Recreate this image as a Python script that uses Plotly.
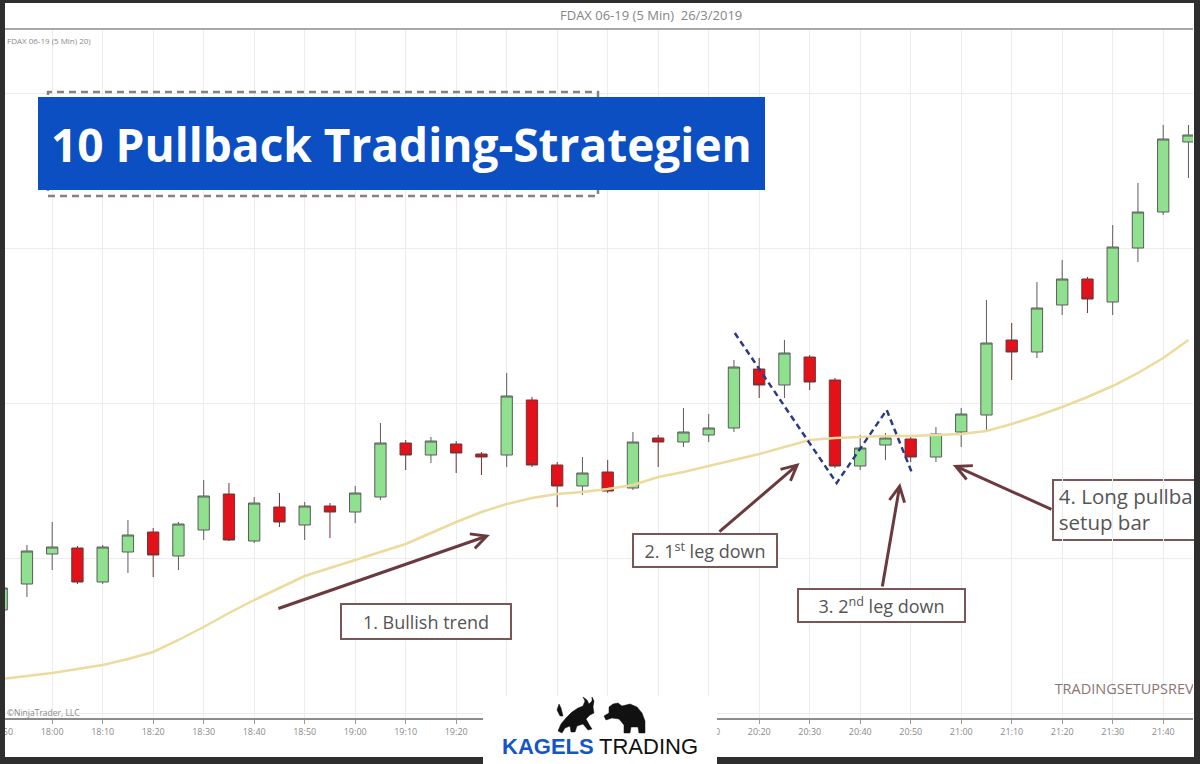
import plotly.graph_objects as go

DATE = "2019-03-26 "

times = ["17:50", "17:55", "18:00", "18:05", "18:10", "18:15", "18:20", "18:25",
         "18:30", "18:35", "18:40", "18:45", "18:50", "18:55", "19:00", "19:05",
         "19:10", "19:15", "19:20", "19:25", "19:30", "19:35", "19:40", "19:45",
         "19:50", "19:55", "20:00", "20:05", "20:10", "20:15", "20:20", "20:25",
         "20:30", "20:35", "20:40", "20:45", "20:50", "20:55", "21:00", "21:05",
         "21:10", "21:15", "21:20", "21:25", "21:30", "21:35", "21:40", "21:45"]

# 10-minute axis ticks; the labels under the logo panel are hidden in the original
tick_times = ["17:50", "18:00", "18:10", "18:20", "18:30", "18:40", "18:50", "19:00",
              "19:10", "19:20", "19:30", "19:40", "19:50", "20:00", "20:10", "20:20",
              "20:30", "20:40", "20:50", "21:00", "21:10", "21:20", "21:30", "21:40"]
tick_labels = ["17:50", "18:00", "18:10", "18:20", "18:30", "18:40", "18:50", "19:00",
               "19:10", "19:20", "", "", "", "", "20:10", "20:20",
               "20:30", "20:40", "20:50", "21:00", "21:10", "21:20", "21:30", "21:40"]

opens = [11358, 11363.2, 11369.2, 11370.4, 11363.6, 11369.6, 11373.6, 11368.8,
         11374, 11381.2, 11371.8, 11378.6, 11375, 11378.8, 11377.6, 11380.6,
         11391.4, 11389, 11391.2, 11389.2, 11389, 11400, 11387, 11382.8,
         11385.6, 11382.4, 11392.4, 11391.6, 11393, 11394.4, 11406.2, 11403,
         11408.6, 11404, 11386.8, 11391, 11392.2, 11388.6, 11393.6, 11397,
         11412, 11409.6, 11419, 11424.2, 11419.6, 11430.4, 11437.6, 11451.6]
highs = [11363.4, 11371, 11375.6, 11370.8, 11371, 11376, 11374.4, 11375.6,
         11384, 11383.4, 11380.6, 11381.4, 11379.6, 11379.4, 11382.8, 11395.4,
         11392, 11392.6, 11391.8, 11389.6, 11405.4, 11400.6, 11387.6, 11388.6,
         11388, 11393.6, 11393, 11398.4, 11397.2, 11408, 11408.4, 11412,
         11409, 11404.4, 11393, 11393.4, 11392.6, 11394.6, 11398.4, 11420,
         11415.4, 11423.6, 11428, 11424.6, 11435, 11443.4, 11455, 11455]
lows = [11357.4, 11360.6, 11366, 11363.2, 11363.2, 11365.4, 11364.6, 11366,
        11372, 11371.8, 11371.4, 11374.6, 11372, 11372.4, 11375.4, 11380,
        11386, 11387.4, 11385.4, 11385, 11386.6, 11386.6, 11378.6, 11381,
        11381.4, 11382, 11386.6, 11390.6, 11391.6, 11393.6, 11400.4, 11400.4,
        11402, 11386.4, 11386, 11388, 11387.6, 11387.6, 11390.6, 11394,
        11404, 11408.4, 11417, 11417.4, 11417, 11427.6, 11437, 11444.4]
closes = [11362.4, 11369.8, 11370.6, 11363.6, 11370.6, 11373, 11369, 11375.2,
          11380.8, 11372, 11379.4, 11375.6, 11378.8, 11377.6, 11381.4, 11391.4,
          11389, 11391.8, 11389.4, 11388.6, 11400.8, 11387, 11382.8, 11385.4,
          11381.8, 11391.6, 11391.6, 11393.6, 11394.4, 11406.6, 11403, 11409.4,
          11403.6, 11386.8, 11390.4, 11392.4, 11388.6, 11393.2, 11397.2, 11411.4,
          11409.6, 11418.4, 11424.2, 11420.2, 11430.6, 11437.6, 11452.2, 11453]
sma20 = [11344.2, 11344.8, 11345.4, 11346.2, 11347, 11348.2, 11349.6, 11352,
         11354.6, 11357.4, 11360, 11362.4, 11364.8, 11366.4, 11368, 11369.6,
         11371.2, 11373.4, 11375.6, 11377.6, 11379.2, 11380.4, 11381.2, 11381.6,
         11382.2, 11383, 11384.6, 11385.6, 11386.8, 11388, 11389.2, 11390.6,
         11392, 11392.4, 11392.6, 11392.8, 11392.8, 11393, 11393.2, 11393.8,
         11395.2, 11396.8, 11398.6, 11400.6, 11402.8, 11405.4, 11408.4, 11412]

zig_times = ["20:15:10", "20:35:20", "20:45:15", "20:50:25"]
zig_prices = [11413.4, 11383.4, 11398, 11385]

x = [DATE + t for t in times]

# plot-area pixel geometry (for decorations placed in paper coordinates)
W, H = 1200, 764
PL, PR, PT, PB = 0, 1193, 30, 718


def px(v):
    return (v - PL) / (PR - PL)


def py(v):
    return (PB - v) / (PB - PT)


def path(points):
    return "M " + " L ".join(f"{px(a):.5f},{py(b):.5f}" for a, b in points) + " Z"


fig = go.Figure()

fig.add_trace(go.Scatter(x=x, y=sma20, mode="lines",
                         line=dict(color="#ecdb9c", width=2.5), hoverinfo="skip"))
fig.add_trace(go.Candlestick(
    x=x, open=opens, high=highs, low=lows, close=closes,
    increasing=dict(fillcolor="#8fe08f", line=dict(color="#5c5c5c", width=1)),
    decreasing=dict(fillcolor="#e3121a", line=dict(color="#6e3434", width=1)),
    whiskerwidth=0, hoverinfo="skip"))
fig.add_trace(go.Scatter(x=[DATE + t for t in zig_times], y=zig_prices, mode="lines",
                         line=dict(color="#2c3a86", width=2.5, dash="6px,4px"),
                         hoverinfo="skip"))
fig.add_trace(go.Scatter(x=[DATE + "21:18:30"], y=[11342], mode="text",
                         text=["TRADINGSETUPSREVIEW"], textposition="middle right",
                         textfont=dict(family="Open Sans", size=14.5, color="#8c7474"),
                         hoverinfo="skip"))
fig.add_trace(go.Scatter(x=[DATE + "21:19:20"], y=[11377.6], mode="text",
                         text=["4. Long pullback<br>setup bar"], textposition="middle right",
                         textfont=dict(family="Open Sans", size=20.5, color="#555555"),
                         hoverinfo="skip"))

shapes = []
shapes.append(dict(type="line", xref="paper", yref="paper", x0=px(5), x1=px(1193),
                   y0=py(29), y1=py(29), line=dict(color="#a8a8a8", width=2), layer="above"))
shapes.append(dict(type="rect", xref="paper", yref="paper", x0=px(48), x1=px(598),
                   y0=py(196), y1=py(92), line=dict(color="#8a8080", width=2.5, dash="7px,5px"),
                   fillcolor="rgba(0,0,0,0)", layer="above"))
shapes.append(dict(type="rect", xref="paper", yref="paper", x0=px(38), x1=px(765),
                   y0=py(190), y1=py(97), line=dict(width=0), fillcolor="#0b4fc3", layer="above"))
shapes.append(dict(type="rect", xref="paper", yref="paper", x0=px(1053), x1=px(1210),
                   y0=py(540), y1=py(480), line=dict(color="#7a5656", width=2),
                   fillcolor="white", layer="between"))
frame = "#2e2e2e"
shapes.append(dict(type="rect", xref="paper", yref="paper", x0=px(-2), x1=px(5),
                   y0=py(766), y1=py(-2), line=dict(width=0), fillcolor=frame, layer="above"))
shapes.append(dict(type="rect", xref="paper", yref="paper", x0=px(1194), x1=px(1202),
                   y0=py(766), y1=py(-2), line=dict(width=0), fillcolor=frame, layer="above"))
shapes.append(dict(type="rect", xref="paper", yref="paper", x0=px(-2), x1=px(1202),
                   y0=py(3), y1=py(-2), line=dict(width=0), fillcolor=frame, layer="above"))
shapes.append(dict(type="rect", xref="paper", yref="paper", x0=px(-2), x1=px(1202),
                   y0=py(766), y1=py(757), line=dict(width=0), fillcolor=frame, layer="above"))
shapes.append(dict(type="rect", xref="paper", yref="paper", x0=px(483), x1=px(717),
                   y0=py(766), y1=py(696), line=dict(width=0), fillcolor="white", layer="above"))
bull = [(558, 731), (561, 724), (566, 718), (572, 712), (578, 708), (583, 706), (585, 701),
        (583, 697), (587, 700), (589, 704), (592, 701), (592, 697), (594, 701), (593, 707),
        (594, 713), (590, 715), (586, 719), (590, 726), (592, 729), (588, 730), (583, 724),
        (577, 726), (575, 732), (571, 732), (570, 726), (565, 728), (562, 733)]
bull_tail = [(560, 716), (557, 710), (559, 704), (561, 708), (563, 716)]
bear = [(604, 716), (609, 713), (609, 707), (613, 704), (618, 703), (622, 706), (630, 704),
        (637, 707), (642, 713), (645, 721), (645, 733), (639, 733), (638, 727), (631, 727),
        (630, 733), (624, 733), (624, 725), (619, 719), (612, 718), (606, 720)]
for pts in (bull, bull_tail, bear):
    shapes.append(dict(type="path", xref="paper", yref="paper", path=path(pts),
                       fillcolor="#111111", line=dict(color="#111111", width=0.5), layer="above"))

ann = []
pap = dict(xref="paper", yref="paper", showarrow=False, yanchor="middle")
ann.append(dict(x=px(651), y=py(15), xanchor="center", text="FDAX 06-19 (5 Min)  26/3/2019",
                font=dict(family="Open Sans", size=13, color="#858585"), **pap))
ann.append(dict(x=px(5), y=py(40), xanchor="left", text="FDAX 06-19 (5 Min) 20)",
                font=dict(family="Open Sans", size=8, color="#8a8a8a"), **pap))
ann.append(dict(x=px(5), y=py(712), xanchor="left", text="©NinjaTrader, LLC",
                font=dict(family="Open Sans", size=8.5, color="#8a8a8a"), **pap))
ann.append(dict(x=px(401.5), y=py(143.5), xanchor="center",
                text="<b>10 Pullback Trading-Strategien</b>",
                font=dict(family="Open Sans", size=46, color="white"), **pap))

box_style = dict(showarrow=False, bordercolor="#7a5656", borderwidth=2, borderpad=4,
                 bgcolor="white", font=dict(family="Open Sans", size=18, color="#555555"))
ann.append(dict(x=DATE + "19:14:00", y=11355.7, text="1. Bullish trend", width=160, height=25, **box_style))
ann.append(dict(x=DATE + "20:09:15", y=11369.9, text="2. 1<sup>st</sup> leg down", width=134, height=23, **box_style))
ann.append(dict(x=DATE + "20:44:10", y=11358.9, text="3. 2<sup>nd</sup> leg down", width=157, height=23, **box_style))

arrow_style = dict(text="", showarrow=True, axref="x", ayref="y", arrowcolor="#6b3a3f",
                   arrowwidth=3, arrowhead=5, arrowsize=1, standoff=0, startstandoff=0)
ann.append(dict(x=DATE + "19:26:40", y=11373, ax=DATE + "18:44:30", ay=11358.2, **arrow_style))
ann.append(dict(x=DATE + "20:28:00", y=11387.4, ax=DATE + "20:11:50", ay=11373.4, **arrow_style))
ann.append(dict(x=DATE + "20:47:55", y=11383.4, ax=DATE + "20:44:20", ay=11362.4, **arrow_style))
ann.append(dict(x=DATE + "20:58:20", y=11387, ax=DATE + "21:18:10", ay=11378, **arrow_style))

ann.append(dict(x=px(596), y=py(746), xanchor="right", text="<b>KAGELS</b>",
                font=dict(family="Liberation Sans", size=22, color="#1456c8"), **pap))
ann.append(dict(x=px(597), y=py(746), xanchor="left", text="TRADING",
                font=dict(family="Liberation Sans", size=22, color="#111111"), **pap))

fig.update_layout(
    width=W, height=H,
    margin=dict(l=PL, r=W - PR, t=PT, b=H - PB, pad=0, autoexpand=False),
    paper_bgcolor="white", plot_bgcolor="white",
    showlegend=False, boxgap=0.36,
    xaxis=dict(type="date", range=[DATE + "17:49:40", DATE + "21:45:54"],
               tickmode="array", tickvals=[DATE + t for t in tick_times], ticktext=tick_labels,
               showgrid=True, gridcolor="#ececec", gridwidth=1,
               showline=True, linecolor="#8c8c8c", linewidth=2,
               ticks="outside", ticklen=4, tickcolor="#9a9a9a",
               tickfont=dict(family="Open Sans", size=9, color="#8a8a8a"),
               rangeslider=dict(visible=False), ticklabeloverflow="allow",
               zeroline=False, fixedrange=True, automargin=False),
    yaxis=dict(range=[11336.4, 11474], tick0=11399.4, dtick=31,
               showgrid=True, gridcolor="#ececec", showticklabels=False,
               zeroline=False, ticks="", fixedrange=True, automargin=False),
    shapes=shapes, annotations=ann,
)

fig.write_html("out.html", config={"displayModeBar": False},
               post_script="document.body.style.margin='0';document.body.style.overflow='hidden';")
